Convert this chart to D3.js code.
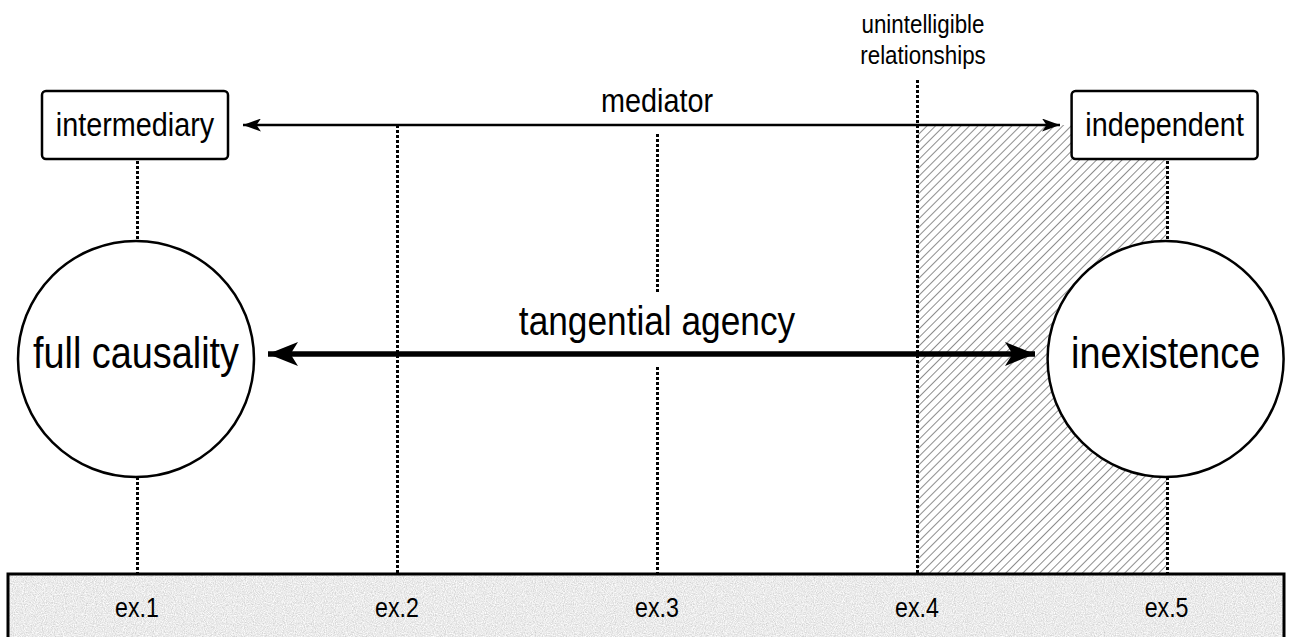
<!DOCTYPE html>
<html>
<head>
<meta charset="utf-8">
<script src="https://cdn.jsdelivr.net/npm/d3@7"></script>
<style>
  body { margin: 0; background: #fff; }
  text { font-family: "Liberation Sans", Arial, sans-serif; fill: #000; }
</style>
</head>
<body>
<div id="viz"></div>
<script>
var width = 1290
var height = 637

// spectrum of examples, position along the scale
var examples = ["ex.1", "ex.2", "ex.3", "ex.4", "ex.5"]
var examplePos = [0, 1, 2, 3, 3.96]

var poles = ["full causality", "inexistence"]
var roles = ["intermediary", "independent"]
var topArrowLabel = "mediator"
var mainArrowLabel = "tangential agency"
var zoneLabel = ["unintelligible", "relationships"]

var x = d3.scaleLinear()
    .domain([0, 4])
    .range([137, 1177])

var yMed = 125, yMain = 354, yBar = 574
var rCircle = 118, cy = 359
var narrow = 0.86   // the lettering is a condensed sans

var svg = d3.select("#viz")
    .append("svg")
    .attr("width", width)
    .attr("height", height);

var defs = svg.append("defs")

// places condensed text centred on (cx, baseline)
function label(sel, cx, by, size) {
    return sel.attr("transform", "translate(" + cx + "," + by + ") scale(" + narrow + ",1)")
        .attr("text-anchor", "middle")
        .style("font-size", size + "px")
}

// hatch pattern for the unintelligible zone
var pat = defs.append("pattern")
    .attr("id", "hatch")
    .attr("patternUnits", "userSpaceOnUse")
    .attr("width", 6)
    .attr("height", 6)
    .attr("patternTransform", "rotate(45)")
pat.append("line")
    .attr("x1", 0).attr("y1", 0)
    .attr("x2", 0).attr("y2", 6)
    .style("stroke", "#666")
    .style("stroke-width", 1.5)

// speckled grey texture for the base bar
var noise = defs.append("filter").attr("id", "grain")
    .attr("x", 0).attr("y", 0).attr("width", 1).attr("height", 1)
noise.append("feTurbulence")
    .attr("type", "fractalNoise")
    .attr("baseFrequency", 0.9)
    .attr("numOctaves", 2)
    .attr("seed", 3)
    .attr("result", "t")
noise.append("feColorMatrix")
    .attr("in", "t")
    .attr("type", "matrix")
    .attr("values", "0.55 0 0 0 0.55  0.55 0 0 0 0.55  0.55 0 0 0 0.55  0 0 0 0 1")
    .attr("result", "g")
noise.append("feComposite")
    .attr("in", "g")
    .attr("in2", "SourceGraphic")
    .attr("operator", "in")

function arrowHead(id, w, h) {
    defs.append("marker")
        .attr("id", id)
        .attr("viewBox", "0 0 " + w + " " + h)
        .attr("refX", w)
        .attr("refY", h / 2)
        .attr("markerWidth", w)
        .attr("markerHeight", h)
        .attr("markerUnits", "userSpaceOnUse")
        .attr("orient", "auto-start-reverse")
        .append("path")
        .attr("d", "M0,0 L" + w + "," + (h / 2) + " L0," + h + " L" + (w * 0.25) + "," + (h / 2) + " Z")
        .style("fill", "#000")
}
arrowHead("headSmall", 18, 13)
arrowHead("headBig", 30, 24)

// hatched zone between ex.4 and ex.5
svg.append("rect")
    .attr("x", x(examplePos[3]))
    .attr("y", yMed)
    .attr("width", x(examplePos[4]) - x(examplePos[3]))
    .attr("height", yBar - yMed)
    .attr("fill", "url(#hatch)")

// dotted guides
var dotted = svg.append("g")
    .style("stroke", "#000")
    .style("stroke-width", 3)
    .style("stroke-dasharray", "3,2")
    .style("shape-rendering", "crispEdges")

var boxBottom = 159
var segs = [
    [[boxBottom + 2, cy - rCircle], [cy + rCircle, yBar]],
    [[yMed, yBar]],
    [[yMed + 9, 293], [367, yBar]],
    [[80, yBar]],
    [[boxBottom + 2, cy - rCircle], [cy + rCircle, yBar]]
]
segs.forEach(function(s, i) {
    s.forEach(function(r) {
        dotted.append("line")
            .attr("x1", x(examplePos[i]) + 0.5).attr("x2", x(examplePos[i]) + 0.5)
            .attr("y1", r[0]).attr("y2", r[1])
    })
})

// arrows
svg.append("line")
    .attr("x1", 243).attr("x2", 1060)
    .attr("y1", yMed).attr("y2", yMed)
    .style("stroke", "#000").style("stroke-width", 2.5)
    .attr("marker-start", "url(#headSmall)")
    .attr("marker-end", "url(#headSmall)")

svg.append("line")
    .attr("x1", 268).attr("x2", 1035)
    .attr("y1", yMain).attr("y2", yMain)
    .style("stroke", "#000").style("stroke-width", 5.5)
    .attr("marker-start", "url(#headBig)")
    .attr("marker-end", "url(#headBig)")

label(svg.append("text"), x(examplePos[2]), 112, 33.5).text(topArrowLabel)
label(svg.append("text"), x(examplePos[2]), 335, 41).text(mainArrowLabel)

svg.selectAll("text.zone")
    .data(zoneLabel)
    .enter().append("text")
    .attr("class", "zone")
    .each(function(d, i) { label(d3.select(this), x(examplePos[3]) + 6, 33 + i * 31, 26) })
    .text(function(d) { return d })

// poles: circles at both ends
var ends = [examplePos[0], examplePos[4]]
svg.selectAll("circle.pole")
    .data(poles)
    .enter().append("circle")
    .attr("class", "pole")
    .attr("cx", function(d, i) { return x(ends[i]) - 1 })
    .attr("cy", cy)
    .attr("r", rCircle)
    .style("fill", "#fff")
    .style("stroke", "#000")
    .style("stroke-width", 2.5)

svg.selectAll("text.pole")
    .data(poles)
    .enter().append("text")
    .attr("class", "pole")
    .each(function(d, i) { label(d3.select(this), x(ends[i]) - 1, 368, 44) })
    .text(function(d) { return d })

// role boxes
var boxW = 186, boxH = 68
var boxes = svg.selectAll("g.role")
    .data(roles)
    .enter().append("g")
    .attr("class", "role")
    .attr("transform", function(d, i) { return "translate(" + (x(ends[i]) - 2) + "," + (boxBottom - boxH / 2) + ")" })
boxes.append("rect")
    .attr("x", -boxW / 2).attr("y", -boxH / 2)
    .attr("width", boxW).attr("height", boxH)
    .attr("rx", 4)
    .style("fill", "#fff")
    .style("stroke", "#000")
    .style("stroke-width", 2.5)
boxes.append("text")
    .each(function() { label(d3.select(this), 0, 11, 33.5) })
    .text(function(d) { return d })

// base bar
svg.append("rect")
    .attr("x", 8).attr("y", yBar)
    .attr("width", 1276).attr("height", 80)
    .attr("fill", "#d8d8d8")
    .attr("filter", "url(#grain)")
svg.append("rect")
    .attr("x", 8).attr("y", yBar)
    .attr("width", 1276).attr("height", 80)
    .style("fill", "none")
    .style("stroke", "#000")
    .style("stroke-width", 3)

svg.selectAll("text.ex")
    .data(examples)
    .enter().append("text")
    .attr("class", "ex")
    .each(function(d, i) { label(d3.select(this), x(examplePos[i]), 617, 27) })
    .text(function(d) { return d })
</script>
</body>
</html>
